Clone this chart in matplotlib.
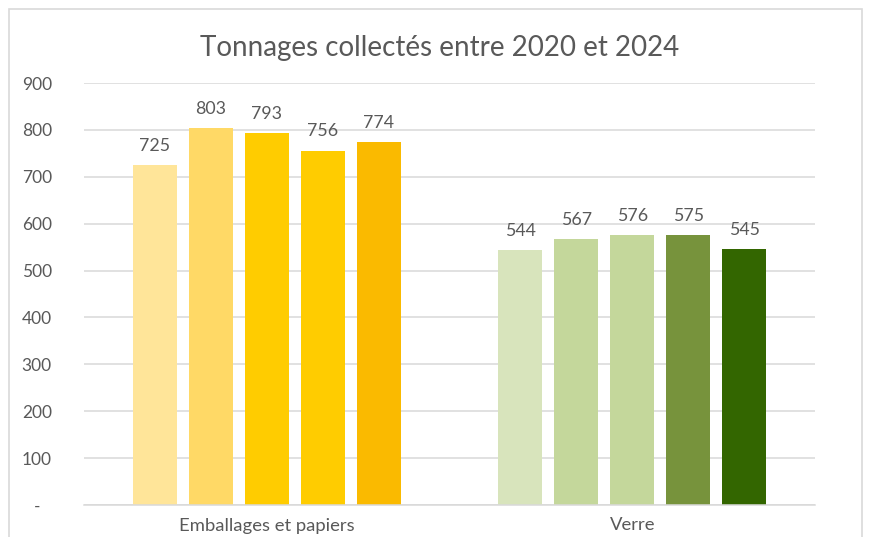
import matplotlib
matplotlib.use('Agg')
import matplotlib.pyplot as plt
from matplotlib.patches import Rectangle

plt.rcParams['font.family'] = ['Lato', 'DejaVu Sans']

# Données
categories = ['Emballages et papiers', 'Verre']
years = ['2020', '2021', '2022', '2023', '2024']
emballages = [725, 803, 793, 756, 774]
verre = [544, 567, 576, 575, 545]
yticks = [0, 100, 200, 300, 400, 500, 600, 700, 800, 900]
ytick_labels = ['-', '100', '200', '300', '400', '500', '600', '700', '800', '900']

colors_emb = ['#FFE599', '#FFD966', '#FFCC00', '#FFCC00', '#FABA00']
colors_verre = ['#D8E4BC', '#C4D79B', '#C4D79B', '#77933C', '#336600']
text_color = '#595959'

fig = plt.figure(figsize=(8.74, 5.37), dpi=100)
ax = fig.add_axes([84 / 874, 1 - 505 / 537, (815 - 84) / 874, (505 - 83) / 537])

# cadre du graphique (coupé en bas)
fig.patches.append(Rectangle((9 / 874, -0.05), (862 - 9) / 874, 1.05 - 9 / 537,
                             transform=fig.transFigure, fill=False,
                             edgecolor='#D9D9D9', linewidth=1.2))

step = 56 / 365.5
width = 44 / 365.5
series = [emballages, verre]
palettes = [colors_emb, colors_verre]
for i, (vals, cols) in enumerate(zip(series, palettes)):
    for j, v in enumerate(vals):
        x = i + (j - 2) * step
        ax.bar(x, v, width=width, color=cols[j], zorder=2)
        ax.annotate(str(v), (x, v), xytext=(0, 8), textcoords='offset points',
                    ha='center', va='bottom', fontsize=12.8, color=text_color)

ax.set_xlim(-0.5, 1.5)
ax.set_ylim(0, 900)
ax.set_yticks(yticks)
ax.set_yticklabels(ytick_labels)
ax.set_xticks(range(len(categories)))
ax.set_xticklabels(categories)
ax.tick_params(axis='y', length=0, pad=34, labelsize=12.5, labelcolor=text_color)
ax.tick_params(axis='x', length=0, pad=9, labelsize=13.3, labelcolor=text_color)
for lbl in ax.get_yticklabels():
    lbl.set_horizontalalignment('center')

ax.grid(axis='y', color='#D9D9D9', linewidth=1.1, zorder=0)
ax.set_axisbelow(True)
for s in ['top', 'right', 'left']:
    ax.spines[s].set_visible(False)
ax.spines['bottom'].set_color('#D9D9D9')
ax.spines['bottom'].set_linewidth(1.1)

fig.text(440 / 874, 1 - 48 / 537, 'Tonnages collectés entre 2020 et 2024',
         ha='center', va='center', fontsize=20, color=text_color)

fig.savefig('out.png', dpi=100)
